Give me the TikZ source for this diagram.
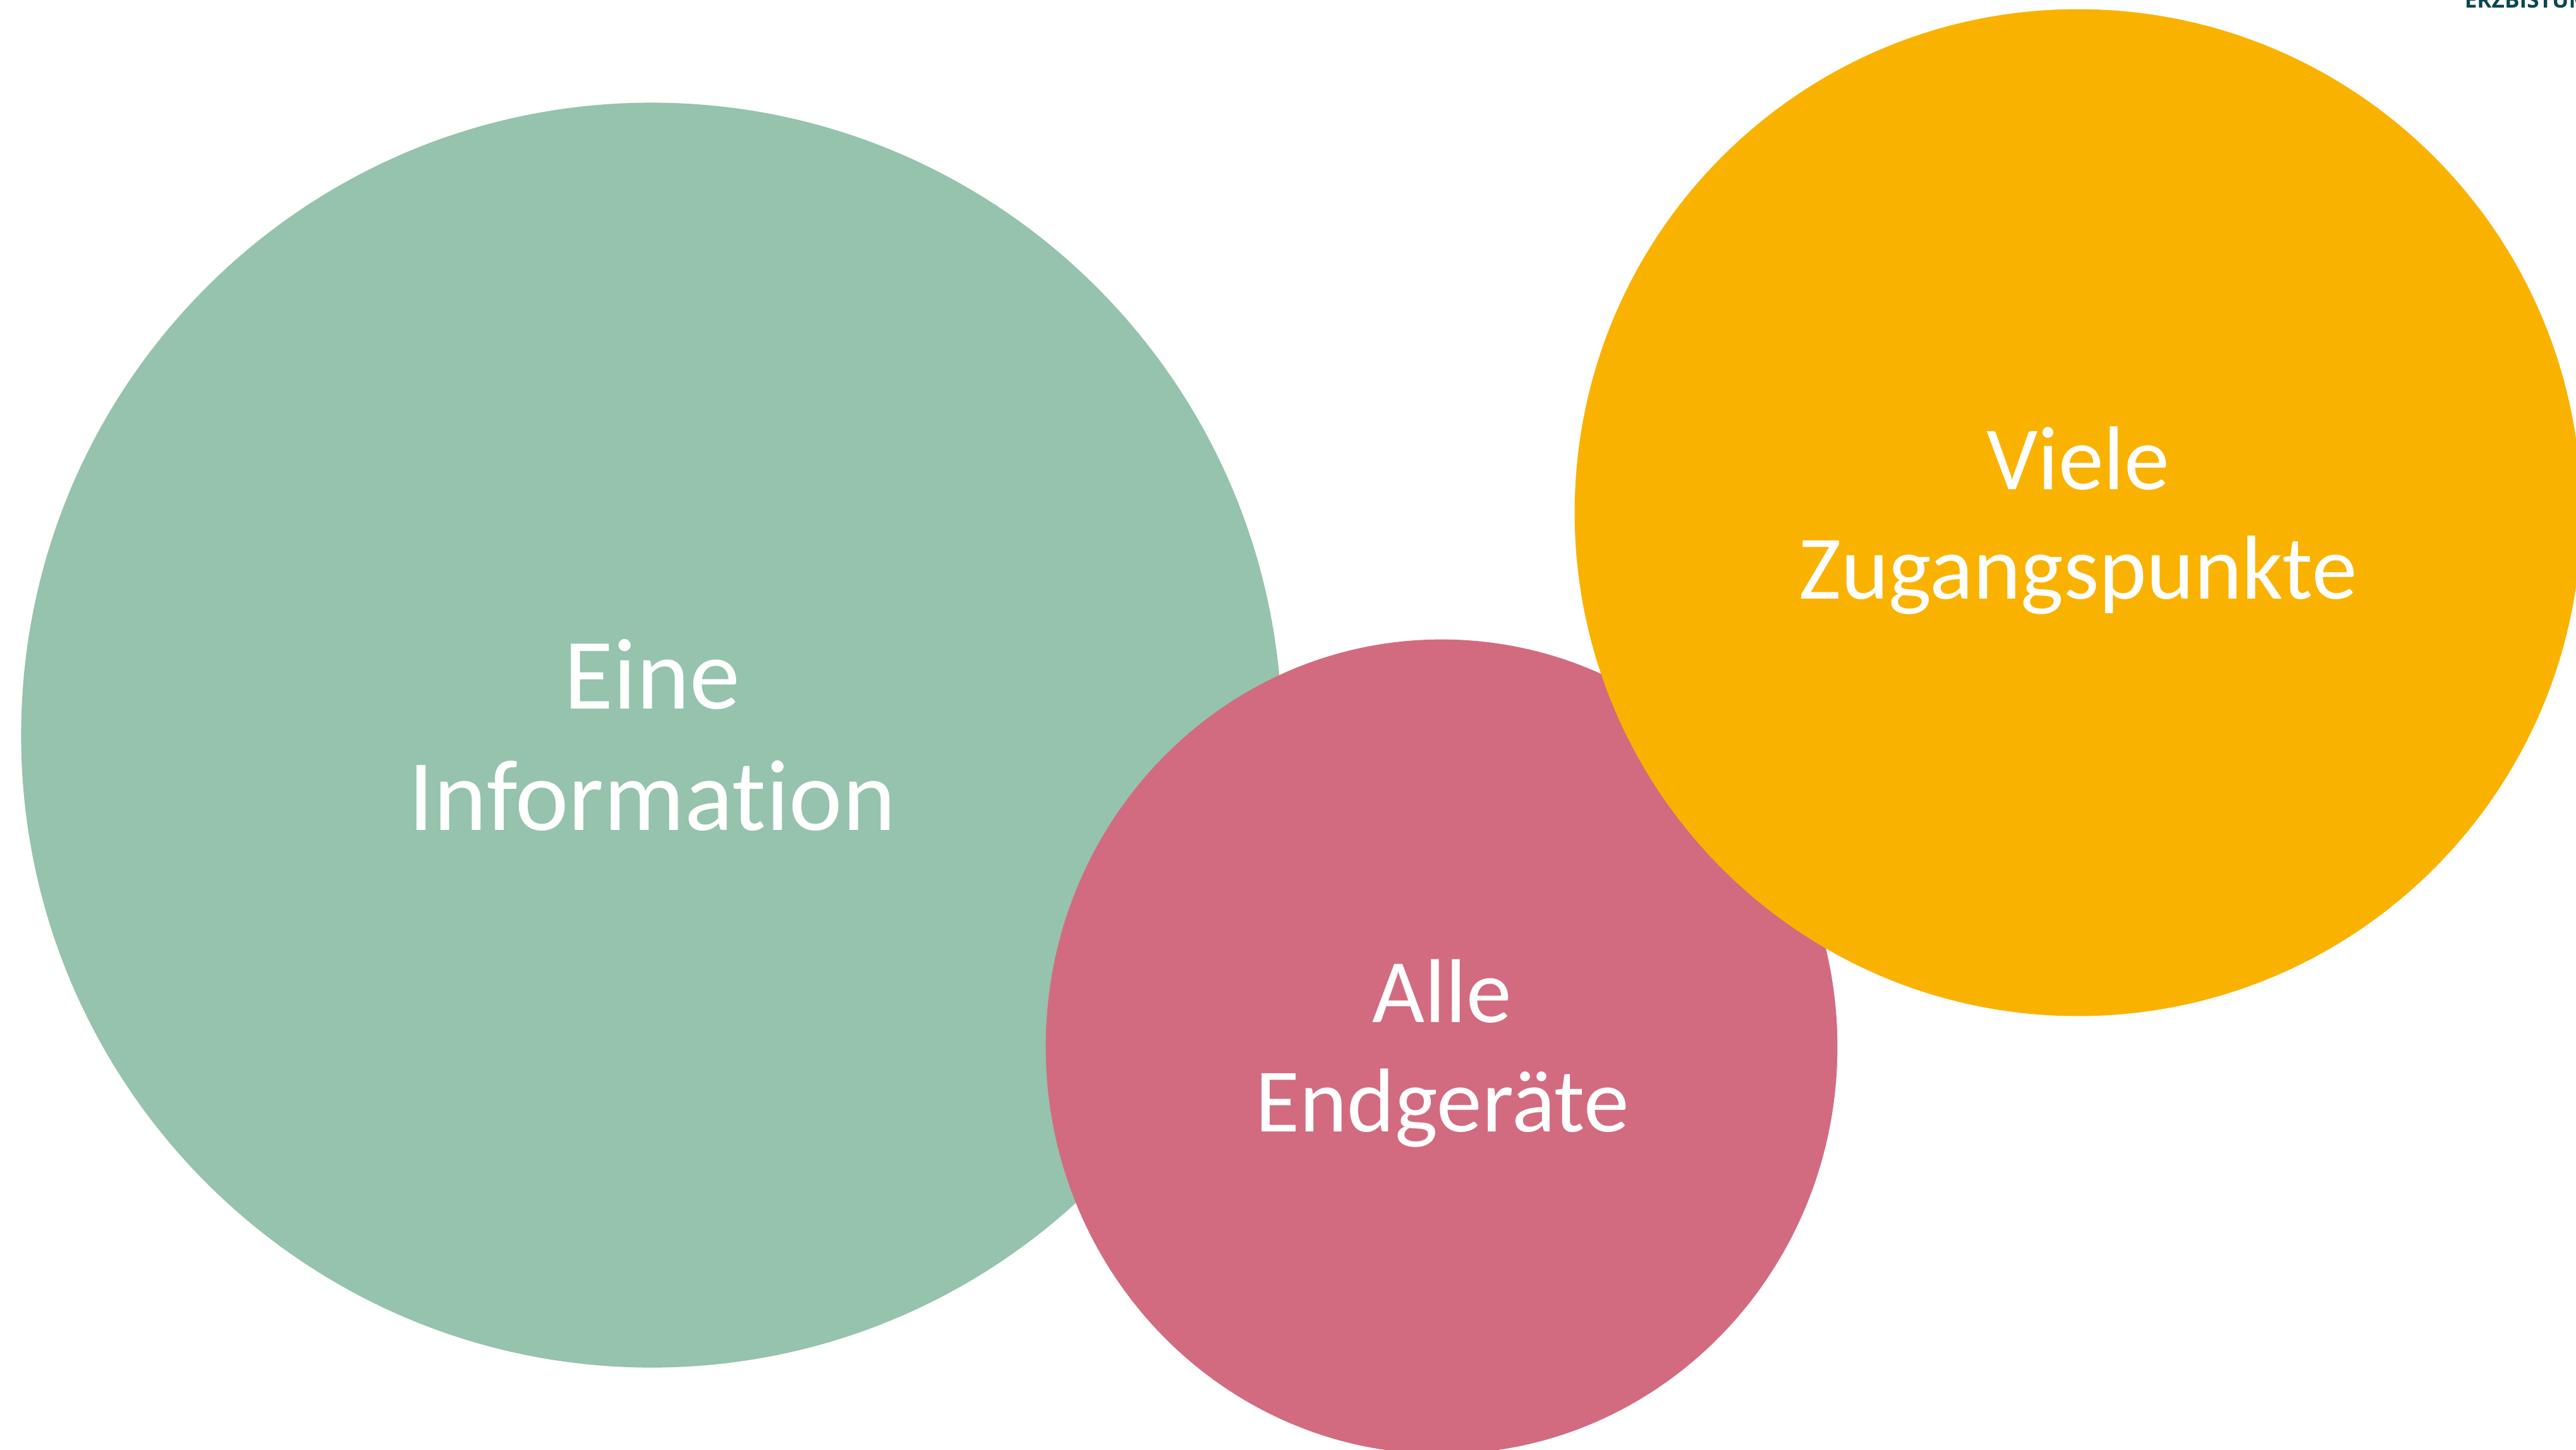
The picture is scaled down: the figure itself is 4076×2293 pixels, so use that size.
\documentclass[tikz,border=0pt]{standalone}
\usepackage{fontspec}
\setmainfont{Carlito}[Ligatures=NoCommon]
\newfontfamily\logofont{Open Sans}
\usetikzlibrary{shapes.geometric}
\definecolor{cgreen}{HTML}{95C3AD}
\definecolor{cpink}{HTML}{D26B80}
\definecolor{corange}{HTML}{FAB200}
\definecolor{cteal}{HTML}{0B4650}
\begin{document}
\begin{tikzpicture}[x=0.01cm,y=-0.01cm,
  blob/.style={ellipse, draw=none, inner sep=0pt, outer sep=0pt},
  bigtext/.style={text=white, align=center, inner sep=0pt, anchor=base,
    font=\fontsize{45.5pt}{54.6pt}\selectfont},
  midtext/.style={text=white, align=center, inner sep=0pt, anchor=base,
    font=\fontsize{40.8pt}{49pt}\selectfont}]
\useasboundingbox (0,0) rectangle (4076,2293);
\clip (0,0) rectangle (4076,2293);
\fill[white] (0,0) rectangle (4076,2293);
% circles
\node[blob, fill=cgreen, minimum width=19.94cm, minimum height=20.0cm] (green) at (1031,1163) {};
\node[blob, fill=cpink, minimum width=12.52cm, minimum height=12.88cm] (pink) at (2281,1656) {};
\node[blob, fill=corange, minimum width=15.92cm, minimum height=15.92cm] (orange) at (3288,811) {};
% texts (anchor = baseline of the last line)
\node[bigtext] (tgreen) at (1032,1313) {Eine\\Information};
\node[midtext] (tpink) at (2282,1790) {Alle\\Endgeräte};
\node[midtext] (torange) at (3288,947) {Viele\\Zugangspunkte};
% cut-off heading at top right
\node[anchor=base west, inner sep=0pt, text=cteal,
  font=\logofont\bfseries\fontsize{10pt}{12pt}\selectfont] (logo) at (3899,12) {ERZBISTUM};
\end{tikzpicture}
\end{document}
